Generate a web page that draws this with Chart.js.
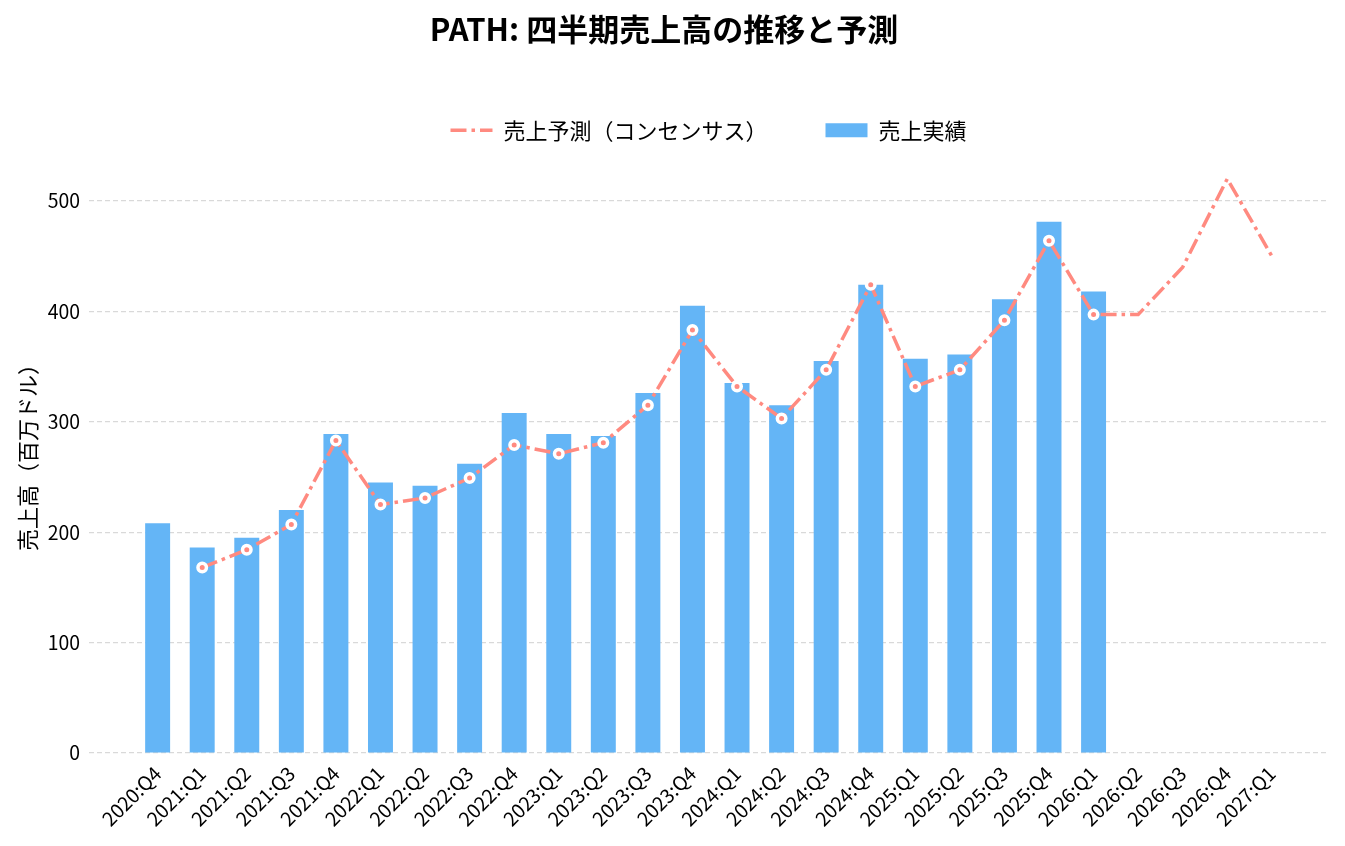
<!DOCTYPE html>
<html lang="ja">
<head>
<meta charset="utf-8">
<title>PATH: 四半期売上高の推移と予測</title>
<script src="https://cdn.jsdelivr.net/npm/chart.js@4.4.3/dist/chart.umd.min.js"></script>
<style>
  html, body { margin: 0; padding: 0; background: #fff; }
  #wrap { width: 1345px; height: 846px; position: relative; }
</style>
</head>
<body>
<div id="wrap"><canvas id="chart"></canvas></div>
<script>
// Quarter labels on the x axis
const quarters = [
  '2020:Q4',
  '2021:Q1', '2021:Q2', '2021:Q3', '2021:Q4',
  '2022:Q1', '2022:Q2', '2022:Q3', '2022:Q4',
  '2023:Q1', '2023:Q2', '2023:Q3', '2023:Q4',
  '2024:Q1', '2024:Q2', '2024:Q3', '2024:Q4',
  '2025:Q1', '2025:Q2', '2025:Q3', '2025:Q4',
  '2026:Q1', '2026:Q2', '2026:Q3', '2026:Q4',
  '2027:Q1'
];

// Actual revenue (million USD), 2020:Q4 .. 2026:Q1
const actualSales = [
  208,
  186, 195, 220, 289,
  245, 242, 262, 308,
  289, 287, 326, 405,
  335, 315, 355, 424,
  357, 361, 411, 481,
  418
];

// Consensus forecast (million USD), aligned with quarters
const forecastSales = [
  null,
  168, 184, 207, 283,
  225, 231, 249, 279,
  271, 281, 315, 383,
  332, 303, 347, 424,
  332, 347, 392, 464,
  397, 397, 440, 520,
  450
];

// the forecast line only has markers where actuals exist
const forecastMarked = quarters.map((_, i) => i < actualSales.length);

const yTicks = [0, 100, 200, 300, 400, 500];

const BAR_COLOR = '#64B5F6';
const LINE_COLOR = '#FF8A80';
const LINE_DASH = [16, 5, 3.5, 5];
const FONT = '"Noto Sans CJK JP", "Noto Sans", sans-serif';

const barPoints = actualSales.map((v, i) => ({ x: i, y: v }));
const linePoints = [];
const lineRadius = [];
forecastSales.forEach((v, i) => {
  if (v == null) return;
  linePoints.push({ x: i, y: v });
  lineRadius.push(forecastMarked[i] ? 4.25 : 0);
});

const ctx = document.getElementById('chart');
new Chart(ctx, {
  type: 'bar',
  data: {
    datasets: [
      {
        type: 'line',
        label: '売上予測（コンセンサス）',
        data: linePoints,
        order: 0,
        borderColor: LINE_COLOR,
        backgroundColor: LINE_COLOR,
        borderWidth: 3.5,
        borderDash: LINE_DASH,
        borderCapStyle: 'butt',
        tension: 0,
        fill: false,
        pointRadius: lineRadius,
        pointHoverRadius: lineRadius,
        pointBackgroundColor: LINE_COLOR,
        pointBorderColor: '#ffffff',
        pointBorderWidth: 3.5
      },
      {
        type: 'bar',
        label: '売上実績',
        data: barPoints,
        order: 1,
        backgroundColor: BAR_COLOR,
        borderWidth: 0,
        categoryPercentage: 1,
        barPercentage: 0.56
      }
    ]
  },
  options: {
    responsive: true,
    maintainAspectRatio: false,
    animation: false,
    layout: { padding: { left: 0, right: 17, top: 0, bottom: 0 } },
    scales: {
      x: {
        type: 'linear',
        min: -1.54,
        max: 26.26,
        offset: false,
        grid: { display: false },
        border: { display: false },
        afterBuildTicks: (scale) => {
          scale.ticks = quarters.map((_, i) => ({ value: i }));
        },
        afterFit: (scale) => { scale.height = 93; },
        ticks: {
          autoSkip: false,
          minRotation: 45,
          maxRotation: 45,
          padding: 1,
          color: '#000',
          font: { family: FONT, size: 19.4 },
          callback: (v) => quarters[v] ?? ''
        }
      },
      y: {
        min: 0,
        max: 545,
        afterBuildTicks: (scale) => {
          scale.ticks = yTicks.map(v => ({ value: v }));
        },
        afterFit: (scale) => { scale.width = 89; },
        border: { display: false, dash: [5, 3] },
        grid: {
          color: '#d9d9d9',
          lineWidth: 1.2,
          drawTicks: false
        },
        ticks: {
          padding: 9,
          color: '#000',
          font: { family: FONT, size: 19.4 }
        },
        title: {
          display: true,
          text: '売上高（百万ドル）',
          color: '#000',
          padding: { top: 14, bottom: 0 },
          font: { family: FONT, size: 22 }
        }
      }
    },
    plugins: {
      title: {
        display: true,
        text: 'PATH: 四半期売上高の推移と予測',
        color: '#000',
        font: { family: FONT, size: 31, weight: 'bold' },
        padding: { top: 11, bottom: 13 }
      },
      legend: {
        position: 'top',
        fullSize: false,
        labels: {
          usePointStyle: true,
          pointStyleWidth: 42,
          boxHeight: 14,
          padding: 58,
          color: '#000',
          font: { family: FONT, size: 22 },
          generateLabels: (chart) => {
            const items = Chart.defaults.plugins.legend.labels.generateLabels(chart);
            items.forEach(item => {
              const ds = chart.data.datasets[item.datasetIndex];
              if (ds.type === 'line') {
                // legend sample is the dashed line itself, not the marker
                item.pointStyle = 'line';
                item.strokeStyle = ds.borderColor;
                item.lineWidth = ds.borderWidth;
                item.lineDash = ds.borderDash;
                item.lineDashOffset = 0;
              } else {
                item.pointStyle = 'rect';
                item.lineWidth = 0;
              }
            });
            return items;
          }
        }
      },
      tooltip: { enabled: false }
    }
  }
});
</script>
</body>
</html>
